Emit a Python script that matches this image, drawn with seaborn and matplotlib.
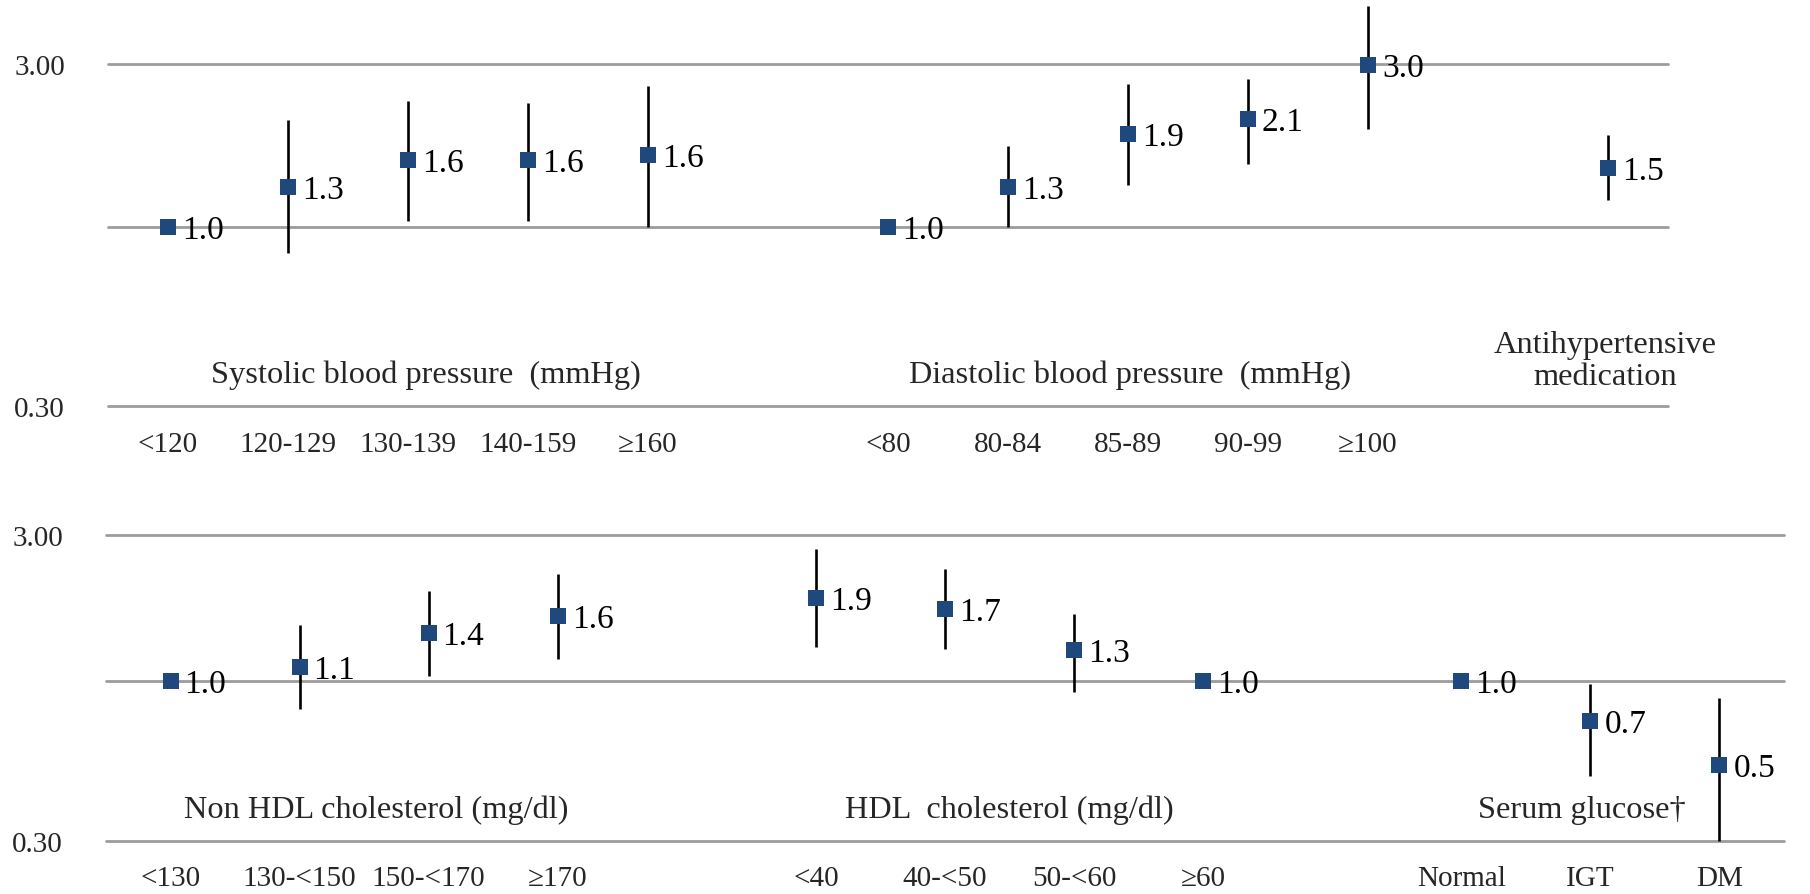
import numpy as np
import pandas as pd
import matplotlib
matplotlib.use("Agg")
import matplotlib.pyplot as plt
from matplotlib.ticker import NullLocator, NullFormatter, FixedLocator, FixedFormatter
import matplotlib.transforms as mtransforms
import seaborn as sns

# ---------------- data ----------------
# Top panel
sbp_labels = ["<120", "120-129", "130-139", "140-159", "≥160"]
sbp_or = [1.0, 1.31, 1.57, 1.57, 1.62]
sbp_lo = [np.nan, 0.84, 1.04, 1.04, 1.00]
sbp_hi = [np.nan, 2.05, 2.34, 2.30, 2.58]

dbp_labels = ["<80", "80-84", "85-89", "90-99", "≥100"]
dbp_or = [1.0, 1.31, 1.87, 2.07, 2.98]
dbp_lo = [np.nan, 1.00, 1.33, 1.53, 1.93]
dbp_hi = [np.nan, 1.72, 2.62, 2.71, 4.44]

med_labels = [""]
med_or = [1.49]
med_lo = [1.20]
med_hi = [1.86]

# Bottom panel
nhdl_labels = ["<130", "130-<150", "150-<170", "≥170"]
nhdl_or = [1.0, 1.11, 1.43, 1.63]
nhdl_lo = [np.nan, 0.81, 1.04, 1.18]
nhdl_hi = [np.nan, 1.52, 1.96, 2.24]

hdl_labels = ["<40", "40-<50", "50-<60", "≥60"]
hdl_or = [1.86, 1.72, 1.26, 1.0]
hdl_lo = [1.29, 1.27, 0.92, np.nan]
hdl_hi = [2.69, 2.32, 1.66, np.nan]

glu_labels = ["Normal", "IGT", "DM"]
glu_or = [1.0, 0.74, 0.53]
glu_lo = [np.nan, 0.49, 0.30]
glu_hi = [np.nan, 0.98, 0.88]

top_groups = [
    ("Systolic blood pressure  (mmHg)", sbp_labels, sbp_or, sbp_lo, sbp_hi),
    ("Diastolic blood pressure  (mmHg)", dbp_labels, dbp_or, dbp_lo, dbp_hi),
    ("Antihypertensive\nmedication", med_labels, med_or, med_lo, med_hi),
]
bottom_groups = [
    ("Non HDL cholesterol (mg/dl)", nhdl_labels, nhdl_or, nhdl_lo, nhdl_hi),
    ("HDL  cholesterol (mg/dl)", hdl_labels, hdl_or, hdl_lo, hdl_hi),
    ("Serum glucose†", glu_labels, glu_or, glu_lo, glu_hi),
]

# ---------------- style ----------------
sns.set_style("white")
plt.rcParams["font.family"] = ["Liberation Serif", "DejaVu Serif"]
NAVY = "#1f497d"
GRID = "#9c9c9c"
W, H = 1810, 895

fig = plt.figure(figsize=(W / 100, H / 100), dpi=100)


def build_df(groups):
    rows = []
    pos = 0
    centers = []
    for gi, (gname, labels, ors, los, his) in enumerate(groups):
        start = pos
        for lab, o, lo, hi in zip(labels, ors, los, his):
            rows.append(dict(group=gname, label=lab, pos=pos, OR=o, lo=lo, hi=hi))
            pos += 1
        centers.append((start + pos - 1) / 2)
        pos += 1  # gap between groups
    return pd.DataFrame(rows), centers


def draw_panel(ax, groups, ylim, xtick_pad, group_label_y, group_dx):
    df, centers = build_df(groups)
    ax.set_yscale("log")
    for v in (0.3, 1.0, 3.0):
        ax.axhline(v, color=GRID, lw=2.0, zorder=1, clip_on=False)
    eb = df.dropna(subset=["lo", "hi"])
    ax.vlines(eb["pos"], eb["lo"], eb["hi"], color="black", lw=1.9, zorder=2, clip_on=False)
    sns.scatterplot(data=df, x="pos", y="OR", ax=ax, marker="s", s=118, color=NAVY,
                    linewidth=0, zorder=3, legend=False, clip_on=False)
    for _, r in df.iterrows():
        ax.annotate(f"{r.OR:.1f}", (r.pos, r.OR), xytext=(10, -2), textcoords="offset points",
                    ha="left", va="center", fontsize=24, color="black", zorder=4)
    ax.set_xlim(-0.5, df["pos"].max() + 0.5)
    ax.set_ylim(*ylim)
    ax.yaxis.set_major_locator(FixedLocator([0.3, 3.0]))
    ax.yaxis.set_major_formatter(FixedFormatter(["0.30", "3.00"]))
    ax.yaxis.set_minor_locator(NullLocator())
    ax.yaxis.set_minor_formatter(NullFormatter())
    ticks = df[df["label"] != ""]
    ax.set_xticks(ticks["pos"])
    ax.set_xticklabels(ticks["label"])
    ax.tick_params(axis="y", length=0, pad=31, labelsize=21)
    ax.tick_params(axis="x", length=0, pad=xtick_pad, labelsize=21)
    ax.set_xlabel("")
    ax.set_ylabel("")
    for s in ax.spines.values():
        s.set_visible(False)
    trans = mtransforms.blended_transform_factory(ax.transData, ax.transAxes)
    for (gname, *_), c, dx, gy in zip(groups, centers, group_dx, group_label_y):
        ax.text(c + dx, gy, gname, transform=trans, ha="center", va="center",
                fontsize=23.3, linespacing=1.15)


def px_axes(x0, x1, y0, y1):
    return fig.add_axes([x0 / W, 1 - y1 / H, (x1 - x0) / W, (y1 - y0) / H])


ax_top = px_axes(108, 1668, 0, 407)
draw_panel(ax_top, top_groups, (0.3, 4.64), 18, [0.077, 0.077, 0.112], [0.15, 0.02, -0.02])

ax_bot = px_axes(106, 1784, 460, 842)
draw_panel(ax_bot, bottom_groups, (0.3, 5.31), 17, [0.082, 0.082, 0.082], [0.09, 0.0, -0.065])

fig.savefig("out.png", dpi=100)
